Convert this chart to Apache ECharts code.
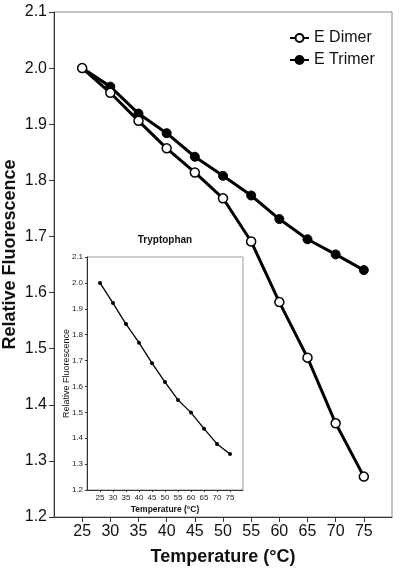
<!DOCTYPE html>
<html>
<head>
<meta charset="utf-8">
<script src="https://cdn.jsdelivr.net/npm/echarts@6/dist/echarts.min.js"></script>
<style>
html,body{margin:0;padding:0;background:#fff;}
#chart{width:400px;height:576px;}
</style>
</head>
<body>
<div id="chart"></div>
<script>
// Data
var temperatures = [25, 30, 35, 40, 45, 50, 55, 60, 65, 70, 75];
var eDimer  = [2.000, 1.956, 1.906, 1.857, 1.814, 1.768, 1.691, 1.583, 1.484, 1.367, 1.272];
var eTrimer = [2.000, 1.967, 1.919, 1.884, 1.842, 1.808, 1.773, 1.731, 1.695, 1.668, 1.640];
var tryptophan = [2.000, 1.922, 1.841, 1.769, 1.690, 1.617, 1.548, 1.499, 1.437, 1.378, 1.339];
var xTicks = [25, 30, 35, 40, 45, 50, 55, 60, 65, 70, 75];

function pairs(xs, ys) { return xs.map(function (x, i) { return [x, ys[i]]; }); }

var FONT = 'Liberation Sans, Arial, sans-serif';
var chart = echarts.init(document.getElementById('chart'), null, {renderer: 'canvas'});

var option = {
  backgroundColor: '#fff',
  animation: false,
  textStyle: {fontFamily: FONT},
  title: {
    text: 'Tryptophan',
    left: 165, top: 235, textAlign: 'center',
    textStyle: {fontFamily: FONT, fontSize: 10, fontWeight: 'bold', color: '#111'},
    padding: 0
  },
  legend: {
    orient: 'vertical',
    left: 289, top: 30,
    padding: 0,
    itemWidth: 19, itemHeight: 10, itemGap: 6,
    textStyle: {fontFamily: FONT, fontSize: 16, color: '#111'},
    data: ['E Dimer', 'E Trimer']
  },
  grid: [
    {left: 54, right: 8, top: 12, bottom: 59, containLabel: false, outerBoundsMode: 'none',
     show: true, borderColor: '#888', borderWidth: 1, backgroundColor: 'transparent'},
    {left: 87, right: 157, top: 257, bottom: 86, containLabel: false, outerBoundsMode: 'none',
     show: true, borderColor: '#999', borderWidth: 1, backgroundColor: '#fff'}
  ],
  xAxis: [
    {
      gridIndex: 0, type: 'value', min: 20, max: 80, interval: 5,
      name: 'Temperature (°C)', nameLocation: 'middle', nameGap: 31, nameMoveOverlap: false,
      nameTextStyle: {fontFamily: FONT, fontSize: 18, fontWeight: 'bold', color: '#111'},
      axisLine: {show: true, onZero: false, lineStyle: {color: '#333', width: 1}},
      axisTick: {show: true, length: 5, customValues: xTicks, lineStyle: {color: '#333'}},
      axisLabel: {customValues: xTicks, margin: 7, fontFamily: FONT, fontSize: 16, color: '#111'},
      splitLine: {show: false}
    },
    {
      gridIndex: 1, type: 'value', min: 20, max: 80, interval: 5,
      name: 'Temperature (°C)', nameLocation: 'middle', nameGap: 15, nameMoveOverlap: false,
      nameTextStyle: {fontFamily: FONT, fontSize: 8.5, fontWeight: 'bold', color: '#111'},
      axisLine: {show: true, onZero: false, lineStyle: {color: '#333', width: 1}},
      axisTick: {show: true, length: 2, customValues: xTicks, lineStyle: {color: '#333'}},
      axisLabel: {customValues: xTicks, margin: 4, fontFamily: FONT, fontSize: 8, color: '#222'},
      splitLine: {show: false}
    }
  ],
  yAxis: [
    {
      gridIndex: 0, type: 'value', min: 1.2, max: 2.1, interval: 0.1,
      name: 'Relative Fluorescence', nameLocation: 'middle', nameGap: 35, nameMoveOverlap: false,
      nameTextStyle: {fontFamily: FONT, fontSize: 18, fontWeight: 'bold', color: '#111', padding: [0, 0, 0, 20]},
      axisLine: {show: true, onZero: false, lineStyle: {color: '#333', width: 1}},
      axisTick: {show: true, length: 5, lineStyle: {color: '#333'}},
      axisLabel: {margin: 7, fontFamily: FONT, fontSize: 16, color: '#111',
        formatter: function (v) { return v.toFixed(1); }},
      splitLine: {show: false}
    },
    {
      gridIndex: 1, type: 'value', min: 1.2, max: 2.1, interval: 0.1,
      name: 'Relative Fluorescence', nameLocation: 'middle', nameGap: 16, nameMoveOverlap: false,
      nameTextStyle: {fontFamily: FONT, fontSize: 9, color: '#111'},
      axisLine: {show: true, onZero: false, lineStyle: {color: '#333', width: 1}},
      axisTick: {show: true, length: 2, lineStyle: {color: '#333'}},
      axisLabel: {margin: 4, fontFamily: FONT, fontSize: 8, color: '#222',
        formatter: function (v) { return v.toFixed(1); }},
      splitLine: {show: false}
    }
  ],
  series: [
    {
      name: 'E Dimer', type: 'line', xAxisIndex: 0, yAxisIndex: 0,
      data: pairs(temperatures, eDimer),
      symbol: 'circle', symbolSize: 9, showAllSymbol: true,
      lineStyle: {color: '#000', width: 3},
      itemStyle: {color: '#fff', borderColor: '#000', borderWidth: 1.5},
      z: 3
    },
    {
      name: 'E Trimer', type: 'line', xAxisIndex: 0, yAxisIndex: 0,
      data: pairs(temperatures, eTrimer),
      symbol: 'circle', symbolSize: 9, showAllSymbol: true,
      lineStyle: {color: '#000', width: 3},
      itemStyle: {color: '#000', borderColor: '#000', borderWidth: 1},
      z: 2
    },
    {
      name: 'Tryptophan', type: 'line', xAxisIndex: 1, yAxisIndex: 1,
      data: pairs(temperatures, tryptophan),
      symbol: 'circle', symbolSize: 4, showAllSymbol: true,
      lineStyle: {color: '#000', width: 1.3},
      itemStyle: {color: '#000'},
      z: 5
    }
  ]
};
chart.setOption(option);
</script>
</body>
</html>
